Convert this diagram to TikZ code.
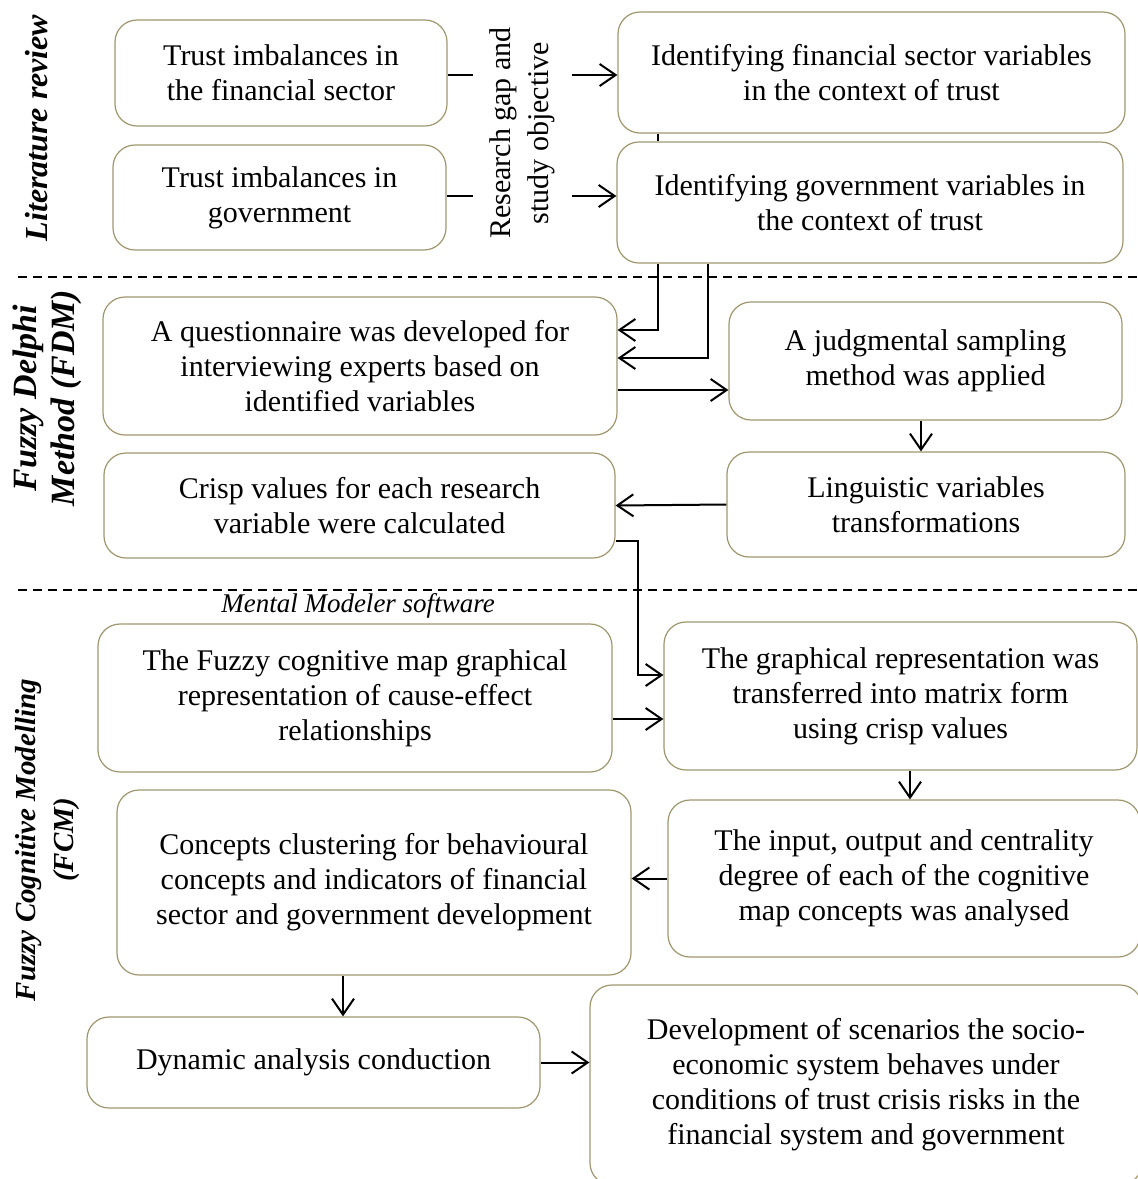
\documentclass[tikz,border=0pt]{standalone}
\usepackage{fontspec}
\setmainfont{Liberation Serif}
\usetikzlibrary{arrows.meta}
\definecolor{boxline}{RGB}{160,150,110}

\begin{document}
\begin{tikzpicture}[x=0.5pt,y=-0.5pt,
        box/.style={draw=boxline,line width=0.6pt,rounded corners=11pt,align=center,
            font=\fontsize{15}{17.5}\selectfont,inner sep=0pt},
        side/.style={rotate=90,align=center,font=\fontsize{#1}{19}\selectfont\bfseries\itshape},
        link/.style={line width=1pt,-{Straight Barb[length=8pt,width=11pt]}},
        sep/.style={line width=1pt,dash pattern=on 4.5pt off 3pt}]
        \useasboundingbox (0,0) rectangle (1137,1179);

        % literature review
        \node[box,minimum width=166pt,minimum height=53pt] (v1) at (281,73) {Trust imbalances in\\the financial sector};
        \node[box,minimum width=166.5pt,minimum height=52.5pt] (v2) at (279.5,197.5) {Trust imbalances in\\government};
        \node[box,minimum width=253.5pt,minimum height=60.5pt] (v3) at (871.5,72.5) {Identifying financial sector variables\\in the context of trust};
        \node[box,minimum width=253pt,minimum height=60.5pt] (v4) at (870,202.5) {Identifying government variables in\\the context of trust};
        \node[rotate=90,align=center,font=\fontsize{15}{19}\selectfont,minimum height=49pt,inner sep=0pt] (rg) at (522.5,133) {Research gap and\\study objective};
        \draw[line width=1pt] (v1.east |- 0,75) -- (rg.north |- 0,75);
        \draw[link] (rg.south |- 0,75) -- (v3.west |- 0,75);
        \draw[line width=1pt] (v2.east |- 0,196) -- (rg.north |- 0,196);
        \draw[link] (rg.south |- 0,196) -- (v4.west |- 0,196);
        \draw[line width=1pt] (v3.south -| 658,0) -- (v4.north -| 658,0);

        % fuzzy delphi
        \node[box,minimum width=257pt,minimum height=69pt] (v5) at (360,366) {A questionnaire was developed for\\interviewing experts based on\\identified variables};
        \node[box,minimum width=196.5pt,minimum height=59pt] (v6) at (925.5,361) {A judgmental sampling\\method was applied};
        \node[box,minimum width=255.5pt,minimum height=52.5pt] (v7) at (359.5,505.5) {Crisp values for each research\\variable were calculated};
        \node[box,minimum width=199pt,minimum height=52.5pt] (v8) at (926,504.5) {Linguistic variables\\transformations};
        \draw[link] (v4.south -| 658,0) |- (v5.east |- 0,330);
        \draw[link] (v4.south -| 708,0) |- (v5.east |- 0,358);
        \draw[link] (v5.east |- 0,390) -- (v6.west |- 0,390);
        \draw[link] (v6.south -| 921,0) -- (v8.north -| 921,0);
        \draw[link] (v8.west) -- (v7.east);

        % fuzzy cognitive modelling
        \node[font=\fontsize{13.5}{15}\selectfont\itshape] (mm) at (358,606) {Mental Modeler software};
        \node[box,minimum width=257pt,minimum height=74pt] (v9) at (355,698) {The Fuzzy cognitive map graphical\\representation of cause-effect\\relationships};
        \node[box,minimum width=236.5pt,minimum height=74pt] (v10) at (900.5,696) {The graphical representation was\\transferred into matrix form\\using crisp values};
        \node[box,minimum width=257pt,minimum height=92.5pt] (v11) at (374,882.5) {Concepts clustering for behavioural\\concepts and indicators of financial\\sector and government development};
        \node[box,minimum width=236pt,minimum height=78.5pt] (v12) at (904,878.5) {The input, output and centrality\\degree of each of the cognitive\\map concepts was analysed};
        \node[box,minimum width=226.5pt,minimum height=45.5pt] (v13) at (313.5,1062.5) {Dynamic analysis conduction};
        \node[box,minimum width=276pt,minimum height=100pt] (v14) at (866,1085) {Development of scenarios the socio-\\economic system behaves under\\conditions of trust crisis risks in the\\financial system and government};
        \draw[link] (v7.east |- 0,541) -| (638,675) -- (v10.west |- 0,675);
        \draw[link] (v9.east |- 0,719) -- (v10.west |- 0,719);
        \draw[link] (v10.south -| 910,0) -- (v12.north -| 910,0);
        \draw[link] (v12.west) -- (v11.east |- v12.west);
        \draw[link] (v11.south -| 343,0) -- (v13.north -| 343,0);
        \draw[link] (v13.east) -- (v14.west |- v13.east);

        % section labels and separators
        \node[side=16] (s1) at (37,128) {Literature review};
        \node[side=17] (s2) at (47,398) {Fuzzy Delphi\\Method (FDM)};
        \node[side=14.5] (s3) at (48,840) {Fuzzy Cognitive Modelling\\(FCM)};
        \draw[sep] (18,277) -- (1137,277);
        \draw[sep] (18,590) -- (1137,590);
    \end{tikzpicture}
\end{document}
